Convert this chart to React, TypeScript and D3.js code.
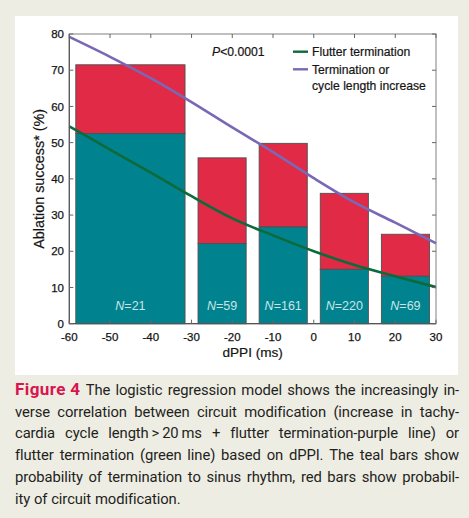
import * as d3 from "d3"
import { useEffect, useRef } from "react"

// dPPI bins (ms) and stacked bar values (%)
const binStart = [-60, -30, -15, 0, 15]
const binEnd = [-30, -15, 0, 15, 30]
const terminationPct = [52.5, 22.1, 26.7, 15.0, 13.1]
const modificationTopPct = [71.5, 45.8, 49.8, 36.0, 24.7]
const groupN = ["21", "59", "161", "220", "69"]

// logistic model curves
const curveX = [-60, -50, -40, -30, -20, -10, 0, 10, 20, 30]
const flutterCurve = [54.5, 48.1, 41.7, 35.2, 29.1, 24.4, 20.0, 16.2, 13.1, 10.1]
const cycleCurve = [79.2, 73.7, 67.8, 61.2, 54.2, 47.4, 40.2, 33.5, 27.9, 22.2]

const xTicks = [-60, -50, -40, -30, -20, -10, 0, 10, 20, 30]
const yTicks = [0, 10, 20, 30, 40, 50, 60, 70, 80]

const captionLines = [
  "The logistic regression model shows the increasingly in-",
  "verse correlation between circuit modification (increase in tachy-",
  "cardia cycle length\u2009>\u200920\u2009ms + flutter termination-purple line) or",
  "flutter termination (green line) based on dPPI. The teal bars show",
  "probability of termination to sinus rhythm, red bars show probabil-",
  "ity of circuit modification.",
]

const W = 469
const H = 518
const TEAL = "#00838f"
const RED = "#e02a46"
const PURPLE = "#7a68b6"
const GREEN = "#0d6a3a"
const INK = "#141414"
const chartFont = "'Liberation Sans', Arial, sans-serif"
const captionFont = "Roboto, Lato, sans-serif"

export default function App() {
  const captionRef = useRef<SVGGElement>(null)

  const margin = { top: 34, right: 33, bottom: 194.3, left: 69.3 }
  const x = d3.scaleLinear().domain([-60, 30]).range([margin.left, W - margin.right])
  const y = d3.scaleLinear().domain([0, 80]).range([H - margin.bottom, margin.top])
  const pad = 6.5

  const line = d3
    .line<number>()
    .x((_, i) => x(curveX[i]))
    .y((d) => y(d))
    .curve(d3.curveMonotoneX)

  useEffect(() => {
    document.body.style.margin = "0"
    document.body.style.background = "#eeede4"
    if (!captionRef.current) return
    const g = d3.select(captionRef.current)
    g.selectAll("*").remove()
    const left = 15
    const right = 459
    const fontSize = 14.8

    captionLines.forEach((ln, li) => {
      const baseline = 395 + li * 21.7
      const tokens = ln.split(" ").map((t) => ({ text: t, bold: false }))
      if (li === 0) tokens.unshift({ text: "Figure 4", bold: true })
      const nodes = tokens.map((t) =>
        g
          .append("text")
          .attr("y", baseline)
          .attr("font-family", captionFont)
          .attr("font-size", t.bold ? 17 : fontSize)
          .attr("font-weight", t.bold ? 700 : 400)
          .attr("letter-spacing", t.bold ? 0.4 : -0.1)
          .attr("fill", t.bold ? "#d8154d" : "#231f20")
          .text(t.text)
      )
      const widths = nodes.map((n) => (n.node() as SVGTextElement).getComputedTextLength())
      const total = d3.sum(widths)
      const last = li === captionLines.length - 1
      const gap = last ? fontSize * 0.26 : (right - left - total) / (tokens.length - 1)
      let cx = left
      nodes.forEach((n, i) => {
        n.attr("x", cx)
        cx += widths[i] + gap
      })
    })
  }, [])

  const plotL = x(-60)
  const plotR = x(30)
  const plotT = y(80)
  const plotB = y(0)

  const tickText = {
    fontFamily: chartFont,
    fontSize: 11.5,
    fill: INK,
    stroke: INK,
    strokeWidth: 0.25,
  }
  const labelText = {
    fontFamily: chartFont,
    fill: INK,
    stroke: INK,
    strokeWidth: 0.2,
  }

  return (
    <svg width={W} height={H} style={{ display: "block", background: "#eeede4" }}>
      <rect x={15} y={16} width={443} height={359} fill="#ffffff" />

      {/* stacked bars */}
      {binStart.map((s, i) => (
        <g key={i}>
          <rect
            x={x(s) + pad}
            width={x(binEnd[i]) - x(s) - 2 * pad}
            y={y(modificationTopPct[i])}
            height={y(terminationPct[i]) - y(modificationTopPct[i])}
            fill={RED}
            stroke="#505050"
            strokeWidth={0.9}
          />
          <rect
            x={x(s) + pad}
            width={x(binEnd[i]) - x(s) - 2 * pad}
            y={y(terminationPct[i])}
            height={y(0) - y(terminationPct[i])}
            fill={TEAL}
            stroke="#505050"
            strokeWidth={0.9}
          />
          <text
            x={(x(s) + x(binEnd[i])) / 2}
            y={310}
            textAnchor="middle"
            fontFamily={chartFont}
            fontSize={12.5}
            fill="#c9e3e6"
          >
            <tspan fontStyle="italic">N</tspan>={groupN[i]}
          </text>
        </g>
      ))}

      {/* model curves */}
      <path d={line(cycleCurve) ?? ""} fill="none" stroke={PURPLE} strokeWidth={2.6} />
      <path d={line(flutterCurve) ?? ""} fill="none" stroke={GREEN} strokeWidth={2.6} />

      {/* frame and inward ticks */}
      <rect x={plotL} y={plotT} width={plotR - plotL} height={plotB - plotT} fill="none" stroke="#808080" strokeWidth={1} />
      <line x1={plotL} x2={plotL} y1={plotT} y2={plotB} stroke="#555" strokeWidth={1.2} />
      <line x1={plotL} x2={plotR} y1={plotB} y2={plotB} stroke="#555" strokeWidth={1.2} />
      {xTicks.map((t) => (
        <g key={"x" + t}>
          <line x1={x(t)} x2={x(t)} y1={plotB} y2={plotB - 4} stroke="#666" />
          <line x1={x(t)} x2={x(t)} y1={plotT} y2={plotT + 4} stroke="#666" />
          <text x={x(t)} y={341} textAnchor="middle" {...tickText}>
            {t}
          </text>
        </g>
      ))}
      {yTicks.map((t) => (
        <g key={"y" + t}>
          <line x1={plotL} x2={plotL + 4} y1={y(t)} y2={y(t)} stroke="#666" />
          <line x1={plotR} x2={plotR - 4} y1={y(t)} y2={y(t)} stroke="#666" />
          <text x={64} y={y(t)} dy="0.36em" textAnchor="end" {...tickText}>
            {t}
          </text>
        </g>
      ))}

      {/* axis titles */}
      <text x={(plotL + plotR) / 2} y={356.5} textAnchor="middle" fontSize={13.6} {...labelText}>
        dPPI (ms)
      </text>
      <text
        transform={`translate(43.6,${(plotT + plotB) / 2}) rotate(-90)`}
        textAnchor="middle"
        fontSize={14.4}
        {...labelText}
      >
        Ablation success* (%)
      </text>

      {/* annotation and legend */}
      <text x={212} y={56} fontSize={12.2} {...labelText}>
        <tspan fontStyle="italic">P</tspan>&lt;0.0001
      </text>
      <line x1={293} x2={308} y1={51.7} y2={51.7} stroke={GREEN} strokeWidth={2.4} />
      <text x={312} y={56} fontSize={12.2} {...labelText}>
        Flutter termination
      </text>
      <line x1={293} x2={308} y1={69.3} y2={69.3} stroke={PURPLE} strokeWidth={2.4} />
      <text x={312} y={73.5} fontSize={12.2} {...labelText}>
        Termination or
      </text>
      <text x={312} y={90} fontSize={12.2} {...labelText}>
        cycle length increase
      </text>

      <g ref={captionRef} />
    </svg>
  )
}
